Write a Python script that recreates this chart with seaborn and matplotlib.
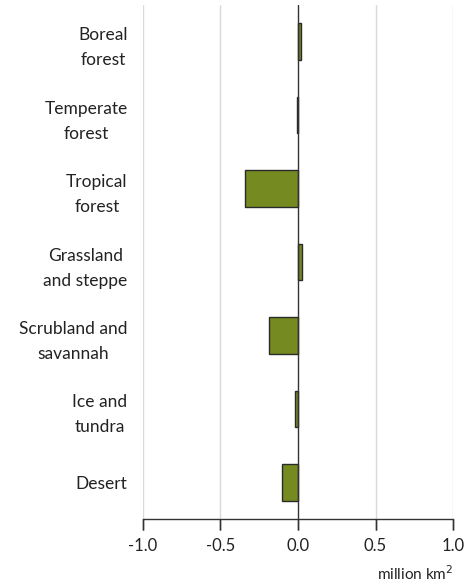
import matplotlib
matplotlib.use("Agg")
import matplotlib.pyplot as plt
import seaborn as sns
import pandas as pd

categories = ["Boreal\nforest", "Temperate\nforest", "Tropical\nforest", "Grassland\nand steppe",
              "Scrubland and\nsavannah", "Ice and\ntundra", "Desert"]
values = [0.02, -0.008, -0.34, 0.025, -0.19, -0.02, -0.105]
xticks = [-1.0, -0.5, 0.0, 0.5, 1.0]
xticklabels = ["-1.0", "-0.5", "0.0", "0.5", "1.0"]

df = pd.DataFrame({"cat": categories, "val": values})

sns.set_style("white", {"xtick.bottom": True, "xtick.direction": "out"})
plt.rcParams['font.family'] = ['Lato', 'DejaVu Sans']

fig = plt.figure(figsize=(4.7, 5.87), dpi=100)
ax = fig.add_axes([0.304, 0.1158, 0.66, 0.8757])

sns.barplot(data=df, y="cat", x="val", orient="h", color="#758b22", saturation=1,
            width=0.5, edgecolor="#2a2a2a", linewidth=1.0, ax=ax, zorder=3)

ax.set_xlim(-1.0, 1.0)
ax.set_ylim(6.5, -0.5)
ax.set_xticks(xticks)
ax.set_xticklabels(xticklabels, fontsize=12, color="#222222")
for x in [-1.0, -0.5, 0.5, 1.0]:
    ax.axvline(x, color="#d9d9d9", lw=1.0, zorder=0)
ax.axvline(0, color="#333333", lw=1.0, zorder=4)

# tick marks below the axis line
ax.vlines(xticks, 0, -0.021, transform=ax.get_xaxis_transform(), colors="#333333",
          lw=1.0, clip_on=False, zorder=5)

ax.set_yticks(range(len(categories)))
ax.set_yticklabels(categories, fontsize=12.5, color="#222222", multialignment="center",
                   linespacing=1.7)
ax.tick_params(axis="y", length=0, pad=11, left=False)
ax.xaxis.set_tick_params(which="major", bottom=True, direction="out", length=8, width=1,
                         color="#333333", pad=6)

for s in ["top", "right", "left"]:
    ax.spines[s].set_visible(False)
ax.spines["bottom"].set_color("#333333")
ax.spines["bottom"].set_linewidth(1.0)

ax.set_ylabel("")
ax.set_xlabel("million km$^2$", fontsize=11, color="#222222")
ax.xaxis.set_label_coords(1.0, -0.088)
ax.xaxis.label.set_horizontalalignment("right")

fig.savefig("out.png", dpi=100)
